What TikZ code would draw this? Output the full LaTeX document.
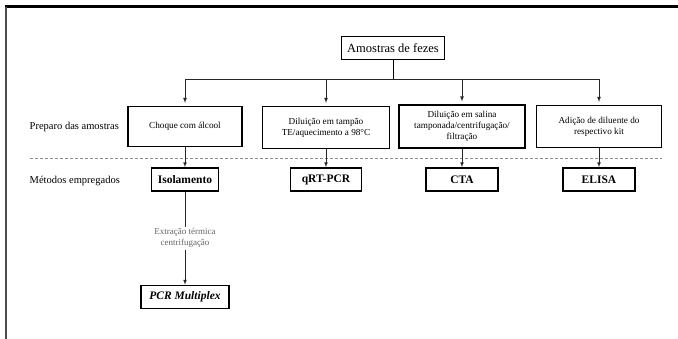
\documentclass[tikz,border=0pt]{standalone}
\usepackage{fontspec}
\setmainfont{Liberation Serif}
\usetikzlibrary{arrows}
\tikzstyle{flow}=[x=1pt, y=-1pt, line width=0.8pt]
\tikzstyle{prep}=[draw=black, line width=1.2pt, fill=white, align=center, inner sep=2pt, minimum height=42pt, font=\fontsize{9.2}{11}\selectfont]
\tikzstyle{src}=[prep, minimum width=103pt, minimum height=23pt, font=\fontsize{12.5}{14}\selectfont]
\tikzstyle{meth}=[draw=black, line width=1.6pt, fill=white, minimum height=23pt, inner sep=2pt, font=\fontsize{11.5}{13}\selectfont\bfseries]
\tikzstyle{side}=[anchor=west, font=\fontsize{10.5}{12}\selectfont]
\tikzstyle{edge}=[->, -latex, line width=0.7pt, draw=black!85]
\tikzstyle{link}=[-, line width=0.9pt, draw=black]
\tikzstyle{stepLabel}=[midway, fill=white, align=center, text=black!60, inner sep=2pt, font=\fontsize{9}{11}\selectfont]
\tikzstyle{sep}=[dash pattern=on 3pt off 2pt, draw=black!45, line width=0.8pt]

\begin{document}
\begin{tikzpicture}[flow]
	\useasboundingbox (0,0) rectangle (678,339);
	\draw[line width=3pt, black] (5,7) -- (678,7);
	\draw[line width=1.5pt, black!70] (6,7) -- (6,339);
	%
	\draw (393,48) node[src] (fezes) {Amostras de fezes};
	\coordinate (bar) at (393,79);
	%
	\draw (185,126.5) node[prep, minimum width=114pt, minimum height=40pt] (p1) {Choque com álcool};
	\draw (326,127.5) node[prep, minimum width=127pt] (p2) {Diluição em tampão\\TE/aquecimento a 98°C};
	\draw (462,126.5) node[prep, minimum width=126pt, minimum height=43pt] (p3) {Diluição em salina\\tamponada/centrifugação/\\filtração};
	\draw (599,126.5) node[prep, minimum width=125pt] (p4) {Adição de diluente do\\respectivo kit};
	%
	\draw (185,179.5) node[meth, minimum width=67pt] (m1) {Isolamento};
	\draw (326,179.5) node[meth, minimum width=71pt] (m2) {qRT-PCR};
	\draw (462,179.5) node[meth, minimum width=72pt] (m3) {CTA};
	\draw (599,179.5) node[meth, minimum width=72pt] (m4) {ELISA};
	\draw (185,297) node[meth, minimum width=88pt, font=\fontsize{11.5}{13}\selectfont\bfseries\itshape] (pcr) {PCR Multiplex};
	%
	\draw (26,127) node[side] (lprep) {Preparo das amostras};
	\draw (26,181) node[side] (lmeth) {Métodos empregados};
	\draw[sep] (30,158) -- (662,158);
	%
	\draw[link] (fezes) -- (bar);
	\draw[edge, shorten >=3pt] (bar) -| (p1);
	\draw[edge, shorten >=3pt] (bar) -| (p2);
	\draw[edge, shorten >=3pt] (bar) -| (p3);
	\draw[edge, shorten >=3pt] (bar) -| (p4);
	%
	\draw[edge] (p1) -- (m1);
	\draw[edge] (p2) -- (m2);
	\draw[edge] (p3) -- (m3);
	\draw[edge] (p4) -- (m4);
	\draw[edge] (m1) -- (pcr) node[stepLabel] {Extração térmica\\centrifugação};
\end{tikzpicture}
\end{document}
